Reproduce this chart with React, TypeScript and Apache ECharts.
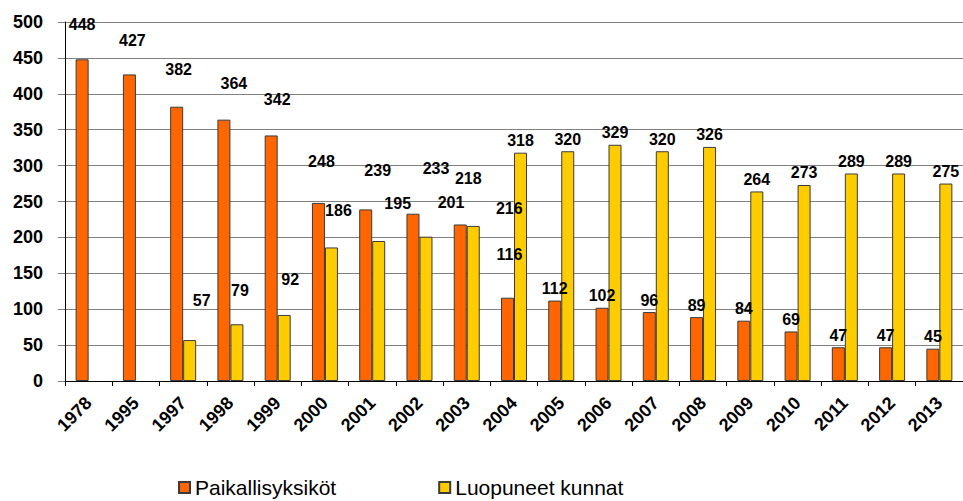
import React, { useEffect, useRef } from "react";
import * as echarts from "echarts";

const years = ["1978", "1995", "1997", "1998", "1999", "2000", "2001", "2002", "2003", "2004", "2005", "2006", "2007", "2008", "2009", "2010", "2011", "2012", "2013"];
const paikallisyksikot = [448, 427, 382, 364, 342, 248, 239, 233, 218, 116, 112, 102, 96, 89, 84, 69, 47, 47, 45];
const luopuneetKunnat: (number | null)[] = [null, null, 57, 79, 92, 186, 195, 201, 216, 318, 320, 329, 320, 326, 264, 273, 289, 289, 275];
const yTicks = { min: 0, max: 500, interval: 50 };

// label displacement as seen in the original (dx, dy in px)
const orangeLabelShift: [number, number][] = [[0, -23], [3, -22], [2, -25], [10, -24], [6, -24], [3, -29], [12, -27], [23, -33], [8, -34], [2, -31], [0, 0], [0, 0], [0, 0], [0, 0], [0, 0], [0, 0], [0, 0], [0, 0], [0, 0]];
const yellowLabelShift: [number, number][] = [[0, 0], [0, 0], [12, -28], [3, -22], [6, -23], [7, -25], [19, -25], [25, -22], [36, -5], [0, 0], [0, 0], [0, 0], [0, 0], [0, 0], [0, 0], [0, 0], [0, 0], [0, 0], [0, 0]];

const FONT = "Arial, 'Liberation Sans', sans-serif";

export default function App() {
  const ref = useRef<HTMLDivElement>(null);
  useEffect(() => {
    if (!ref.current) return;
    const chart = echarts.init(ref.current, null, { renderer: "svg" });
    const labelBase = {
      show: true,
      position: "top" as const,
      distance: 4,
      fontFamily: FONT,
      fontWeight: "bold" as const,
      fontSize: 16,
      color: "#000",
    };
    chart.setOption({
      animation: false,
      backgroundColor: "#fff",
      grid: { left: 65, top: 22, width: 905, height: 359 },
      legend: {
        left: 173,
        top: 472,
        icon: "rect",
        itemWidth: 11,
        itemHeight: 11,
        itemGap: 102,
        textStyle: { fontFamily: FONT, fontSize: 21, color: "#000" },
        data: ["Paikallisyksiköt", "Luopuneet kunnat"],
      },
      xAxis: {
        type: "category",
        data: years,
        axisLine: { lineStyle: { color: "#000", width: 1 } },
        axisTick: { show: true, length: 5, lineStyle: { color: "#000" } },
        axisLabel: {
          rotate: 45,
          interval: 0,
          margin: 19,
          fontFamily: FONT,
          fontWeight: "bold",
          fontSize: 18,
          color: "#000",
        },
      },
      yAxis: {
        type: "value",
        min: yTicks.min,
        max: yTicks.max,
        interval: yTicks.interval,
        axisLine: { show: true, lineStyle: { color: "#000", width: 1 } },
        axisTick: { show: true, length: 7, lineStyle: { color: "#808080" } },
        splitLine: { lineStyle: { color: "#808080", width: 1 } },
        axisLabel: {
          margin: 22,
          fontFamily: FONT,
          fontWeight: "bold",
          fontSize: 18,
          color: "#000",
        },
      },
      series: [
        {
          name: "Paikallisyksiköt",
          type: "bar",
          barWidth: 13,
          barGap: "0%",
          itemStyle: { color: "#FF6600", borderColor: "#3a3a3a", borderWidth: 1 },
          label: labelBase,
          data: paikallisyksikot.map((v, i) => ({ value: v, label: { offset: orangeLabelShift[i] } })),
        },
        {
          name: "Luopuneet kunnat",
          type: "bar",
          barWidth: 13,
          barGap: "0%",
          itemStyle: { color: "#FFCC00", borderColor: "#3a3a3a", borderWidth: 1 },
          label: labelBase,
          data: luopuneetKunnat.map((v, i) => ({ value: v, label: { offset: yellowLabelShift[i] } })),
        },
      ],
    });
    return () => chart.dispose();
  }, []);
  return <div ref={ref} style={{ width: 963, height: 501, position: "absolute", left: 0, top: 0 }} />;
}
